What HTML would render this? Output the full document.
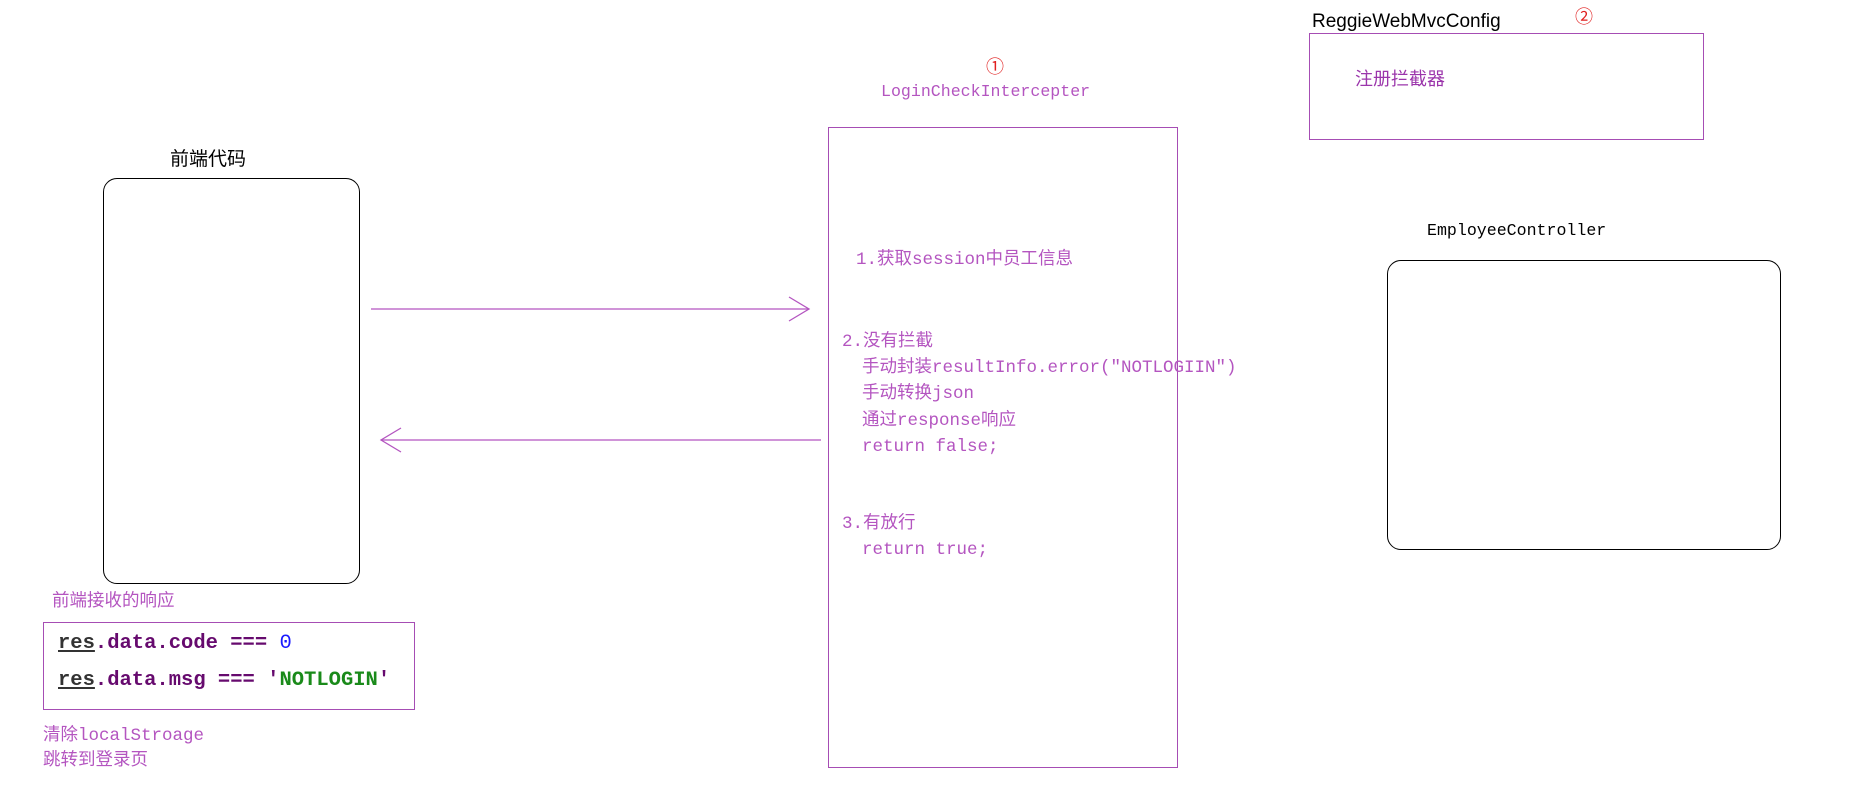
<!DOCTYPE html>
<html><head><meta charset="utf-8"><style>
body{margin:0;width:1865px;height:787px;background:#fff;position:relative;overflow:hidden;font-family:"Liberation Mono","Noto Sans CJK SC",monospace;}
.a{position:absolute;white-space:pre;line-height:1;}
.box{position:absolute;box-sizing:border-box;}
.p{color:#b455c0;font-size:17.5px;}
</style></head><body>
<div class="box" style="left:103px;top:178px;width:257px;height:406px;border:1.3px solid #000;border-radius:14px"></div>
<div class="box" style="left:1387px;top:260px;width:394px;height:290px;border:1.3px solid #000;border-radius:14px"></div>
<div class="box" style="left:828px;top:127px;width:350px;height:641px;border:1.5px solid #a64db4"></div>
<div class="box" style="left:1309px;top:33px;width:395px;height:107px;border:1.5px solid #a64db4"></div>
<div class="box" style="left:43px;top:622px;width:372px;height:88px;border:1.5px solid #a64db4"></div>

<div class="a" style="left:170px;top:150px;font-size:19px;font-family:'Liberation Sans','Noto Sans CJK SC',sans-serif;color:#000">前端代码</div>
<div class="a" style="left:986px;top:58px;font-size:18px;color:#e02020;font-family:'Liberation Sans','Noto Sans CJK SC',sans-serif">①</div>
<div class="a p" style="left:881px;top:84px;font-size:16.6px">LoginCheckIntercepter</div>
<div class="a" style="left:1312px;top:12px;font-size:19px;font-family:'Liberation Sans',sans-serif;color:#000">ReggieWebMvcConfig</div>
<div class="a" style="left:1575px;top:8px;font-size:18px;color:#e02020;font-family:'Liberation Sans','Noto Sans CJK SC',sans-serif">②</div>
<div class="a" style="left:1355px;top:70px;font-size:18px;color:#9b35ab;font-family:'Liberation Sans','Noto Sans CJK SC',sans-serif">注册拦截器</div>
<div class="a" style="left:1427px;top:223px;font-size:16.6px;color:#000">EmployeeController</div>

<div class="a p" style="left:856px;top:252px">1.获取session中员工信息</div>
<div class="a p" style="left:842px;top:334px">2.没有拦截</div>
<div class="a p" style="left:862px;top:360px">手动封装resultInfo.error("NOTLOGIIN")</div>
<div class="a p" style="left:862px;top:386px">手动转换json</div>
<div class="a p" style="left:862px;top:413px">通过response响应</div>
<div class="a p" style="left:862px;top:439px">return false;</div>
<div class="a p" style="left:842px;top:516px">3.有放行</div>
<div class="a p" style="left:862px;top:542px">return true;</div>

<div class="a p" style="left:52px;top:594px">前端接收的响应</div>
<div class="a" style="left:58px;top:634px;font-size:20.5px;font-weight:bold;color:#660a6e"><span style="text-decoration:underline;color:#333">res</span>.data.code === <span style="color:#1a1aff;font-weight:normal">0</span></div>
<div class="a" style="left:58px;top:671px;font-size:20.5px;font-weight:bold;color:#660a6e"><span style="text-decoration:underline;color:#333">res</span>.data.msg === '<span style="color:#1a8a1a">NOTLOGIN</span>'</div>
<div class="a p" style="left:43px;top:728px">清除localStroage</div>
<div class="a p" style="left:43px;top:753px">跳转到登录页</div>

<svg width="1865" height="787" style="position:absolute;left:0;top:0" fill="none" stroke="#b455c0" stroke-width="1.3">
<line x1="371" y1="309" x2="809" y2="309"/>
<polyline points="789,297 809,309 789,321"/>
<line x1="821" y1="440" x2="381" y2="440"/>
<polyline points="401,428 381,440 401,452"/>
</svg>
</body></html>
